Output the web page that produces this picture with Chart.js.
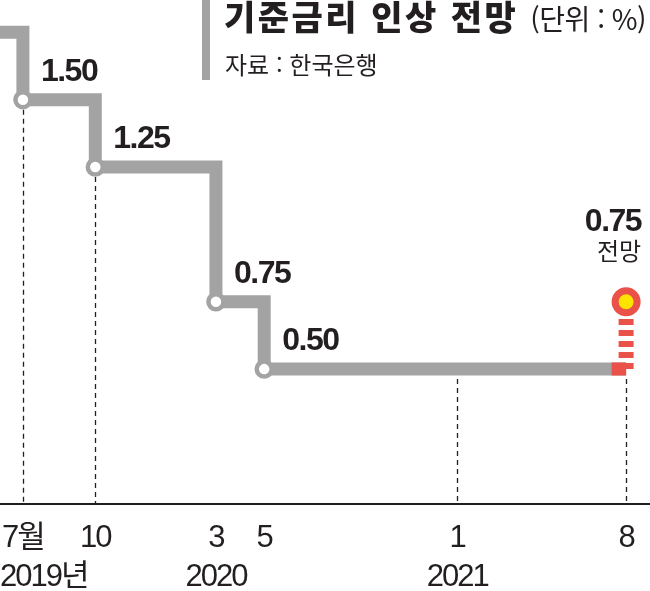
<!DOCTYPE html>
<html lang="ko">
<head>
<meta charset="utf-8">
<title>기준금리 인상 전망</title>
<script src="https://cdn.jsdelivr.net/npm/chart.js@4.4.1/dist/chart.umd.min.js"></script>
<style>
    html, body { margin: 0; padding: 0; background: #fff; }
    #wrap { position: relative; width: 650px; height: 591px; overflow: hidden; }
    #rateChart { position: absolute; left: 0; top: 0; }
    .bar { position: absolute; left: 202px; top: 0; width: 8px; height: 80px; background: #a3a3a3; }
    .title {
        position: absolute; left: 224px; top: -9px; white-space: nowrap;
        font-family: "Noto Sans CJK KR", sans-serif; font-weight: 900;
        font-size: 34px; letter-spacing: 2.5px; color: #231f20;
    }
    .title .unit { font-weight: 400; font-size: 28px; letter-spacing: -0.5px; }
    .source {
        position: absolute; left: 225px; top: 46px; white-space: nowrap;
        font-family: "Noto Sans CJK KR", sans-serif; font-size: 24px;
        letter-spacing: 0; color: #231f20;
    }
</style>
</head>
<body>
<div id="wrap">
    <canvas id="rateChart" width="650" height="591"></canvas>
    <div class="bar"></div>
    <div class="title">기준금리 인상 전망 <span class="unit">(단위 : %)</span></div>
    <div class="source">자료 : 한국은행</div>
</div>
<script>

// ==========================================
// Data (months counted from July 2019)
// ==========================================

const months = [-1, 0, 3, 8, 10, 25];
const rates = [1.75, 1.50, 1.25, 0.75, 0.50, 0.50];

const forecastMonth = 25;
const forecastFrom = 24.4;
const forecastRates = [0.50, 0.75];

const tickMonths = [0, 3, 8, 10, 18, 25];
const tickLabels = ["7월", "10", "3", "5", "1", "8"];

const yearMonths = [0, 8, 18];
const yearLabels = ["2019년", "2020", "2021"];

const guideMonths = [0, 3, 18, 25];


const GRAY = "#a3a3a3";
const RED = "#ea5149";
const YELLOW = "#fde300";
const INK = "#231f20";
const NUM_FONT = '"Liberation Sans", "Noto Sans CJK KR", sans-serif';
const KR_FONT = '"Noto Sans CJK KR", sans-serif';


function rateAt(month) {

    let value = rates[0];

    months.forEach((m, i) => {
        if (m <= month) value = rates[i];
    });

    return value;

}


// ==========================================
// Annotation plugin: guides, value labels, years
// ==========================================

const annotate = {

    id: "annotate",

    beforeDraw(chart) {
        // tighter digits, closer to the condensed print face
        chart.ctx.letterSpacing = "-2px";
    },

    beforeDatasetsDraw(chart) {

        const { ctx, scales: { x, y } } = chart;

        ctx.save();
        ctx.strokeStyle = INK;
        ctx.lineWidth = 1.3;
        ctx.setLineDash([5, 4]);

        guideMonths.forEach(m => {

            const px = Math.round(x.getPixelForValue(m)) + 0.5;

            ctx.beginPath();
            ctx.moveTo(px, y.getPixelForValue(rateAt(m)) + 10);
            ctx.lineTo(px, y.getPixelForValue(0));
            ctx.stroke();

        });

        ctx.restore();

    },

    afterDatasetsDraw(chart) {

        const { ctx, scales: { x, y } } = chart;

        ctx.save();
        ctx.fillStyle = INK;
        ctx.font = "bold 32px " + NUM_FONT;
        ctx.letterSpacing = "-1.5px";
        ctx.textAlign = "left";
        ctx.textBaseline = "alphabetic";

        months.forEach((m, i) => {

            if (m < 0 || m >= forecastMonth) return;

            ctx.fillText(
                rates[i].toFixed(2),
                x.getPixelForValue(m) + 18,
                y.getPixelForValue(rates[i]) - 19
            );

        });

        // forecast label
        const fx = x.getPixelForValue(forecastMonth);
        const fy = y.getPixelForValue(forecastRates[1]);

        ctx.textAlign = "right";
        ctx.fillText(forecastRates[1].toFixed(2), fx + 15, fy - 71);

        ctx.letterSpacing = "0px";
        ctx.font = "24px " + KR_FONT;
        ctx.fillText("전망", fx + 15, fy - 42);

        ctx.restore();

    },

    afterDraw(chart) {

        const { ctx, scales: { x } } = chart;

        ctx.save();
        ctx.fillStyle = INK;
        ctx.font = "31px " + NUM_FONT;
        ctx.letterSpacing = "-2px";
        ctx.textBaseline = "alphabetic";

        yearLabels.forEach((label, i) => {

            if (i === 0) {
                ctx.textAlign = "left";
                ctx.fillText(label, 0, 586);
            } else {
                ctx.textAlign = "center";
                ctx.fillText(label, x.getPixelForValue(yearMonths[i]), 586);
            }

        });

        ctx.restore();

        ctx.letterSpacing = "0px";

    }

};


// ==========================================
// Chart
// ==========================================

const ctx = document.getElementById("rateChart").getContext("2d");

new Chart(ctx, {

    type: "line",

    data: {

        datasets: [

            {
                label: "전망",
                data: forecastRates.map(v => ({ x: forecastMonth, y: v })),
                borderColor: RED,
                borderWidth: 15,
                borderDash: [6, 5],
                borderCapStyle: "butt",
                pointRadius: [0, 11],
                pointBackgroundColor: YELLOW,
                pointBorderColor: RED,
                pointBorderWidth: 7
            },

            {
                label: "전망 시작",
                data: [
                    { x: forecastFrom, y: forecastRates[0] },
                    { x: forecastMonth, y: forecastRates[0] }
                ],
                borderColor: RED,
                borderWidth: 13,
                borderCapStyle: "butt",
                pointRadius: 0
            },

            {
                label: "기준금리",
                data: months.map((m, i) => ({ x: m, y: rates[i] })),
                stepped: true,
                borderColor: GRAY,
                borderWidth: 13,
                borderCapStyle: "butt",
                borderJoinStyle: "miter",
                pointRadius: months.map(m => (m < 0 || m >= forecastMonth) ? 0 : 7.5),
                pointBackgroundColor: "#fff",
                pointBorderColor: GRAY,
                pointBorderWidth: 4.5
            }

        ]

    },

    options: {

        responsive: false,
        animation: false,
        events: [],

        layout: {
            autoPadding: false,
            padding: { top: 0, left: 0, right: 0, bottom: 34 }
        },

        plugins: {
            legend: { display: false },
            tooltip: { enabled: false }
        },

        scales: {

            x: {
                type: "linear",
                min: -0.95,
                max: 25.99,
                grid: { display: false, drawTicks: true, tickLength: 16 },
                border: { display: true, color: INK, width: 2 },
                afterBuildTicks: axis => {
                    axis.ticks = tickMonths.map(v => ({ value: v }));
                },
                ticks: {
                    autoSkip: false,
                    maxRotation: 0,
                    padding: 0,
                    color: INK,
                    font: { family: NUM_FONT, size: 31 },
                    callback: value => tickLabels[tickMonths.indexOf(value)]
                }
            },

            y: {
                display: false,
                min: 0,
                max: 1.87
            }

        }

    },

    plugins: [annotate]

});

</script>
</body>
</html>
